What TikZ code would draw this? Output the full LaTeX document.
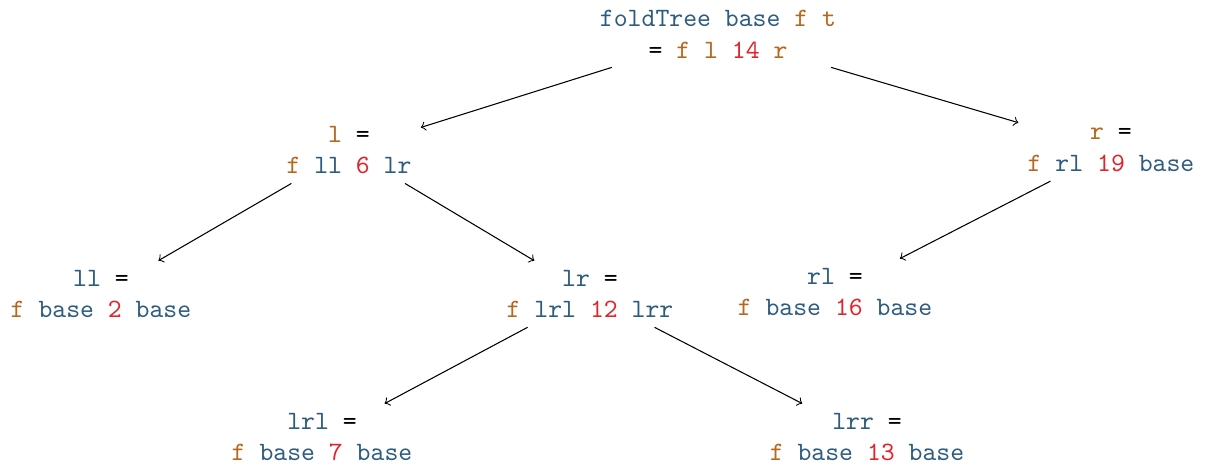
\documentclass[tikz,border=0pt]{standalone}
\definecolor{hsblue}{HTML}{2E5C80}
\definecolor{hsorange}{HTML}{B8661A}
\definecolor{hsred}{HTML}{E0242A}
\newcommand{\vb}[1]{\textcolor{hsblue}{#1}}
\newcommand{\vo}[1]{\textcolor{hsorange}{#1}}
\newcommand{\vr}[1]{\textcolor{hsred}{#1}}
\begin{document}
\begin{tikzpicture}[x=0.378pt,y=-0.378pt,
  tree/.style={align=center,font=\ttfamily},
  edge/.style={->}]
\useasboundingbox (0,0) rectangle (1206,466);
\node[tree] (root) at (718,34) {\vb{foldTree base} \vo{f t}\\= \vo{f l} \vr{14} \vo{r}};
\node[tree] (l) at (349,150) {\vo{l} =\\\vo{f} \vb{ll} \vr{6} \vb{lr}};
\node[tree] (r) at (1111,150) {\vo{r} =\\\vo{f} \vb{rl} \vr{19} \vb{base}};
\node[tree] (ll) at (101,294) {\vb{ll} =\\\vo{f} \vb{base} \vr{2} \vb{base}};
\node[tree] (lr) at (590,294) {\vb{lr} =\\\vo{f} \vb{lrl} \vr{12} \vb{lrr}};
\node[tree] (rl) at (835,292) {\vb{rl} =\\\vo{f} \vb{base} \vr{16} \vb{base}};
\node[tree] (lrl) at (322,437) {\vb{lrl} =\\\vo{f} \vb{base} \vr{7} \vb{base}};
\node[tree] (lrr) at (867,437) {\vb{lrr} =\\\vo{f} \vb{base} \vr{13} \vb{base}};
\draw[edge] (root) -- (l);
\draw[edge] (root) -- (r);
\draw[edge] (l) -- (ll);
\draw[edge] (l) -- (lr);
\draw[edge] (r) -- (rl);
\draw[edge] (lr) -- (lrl);
\draw[edge] (lr) -- (lrr);
\end{tikzpicture}
\end{document}
